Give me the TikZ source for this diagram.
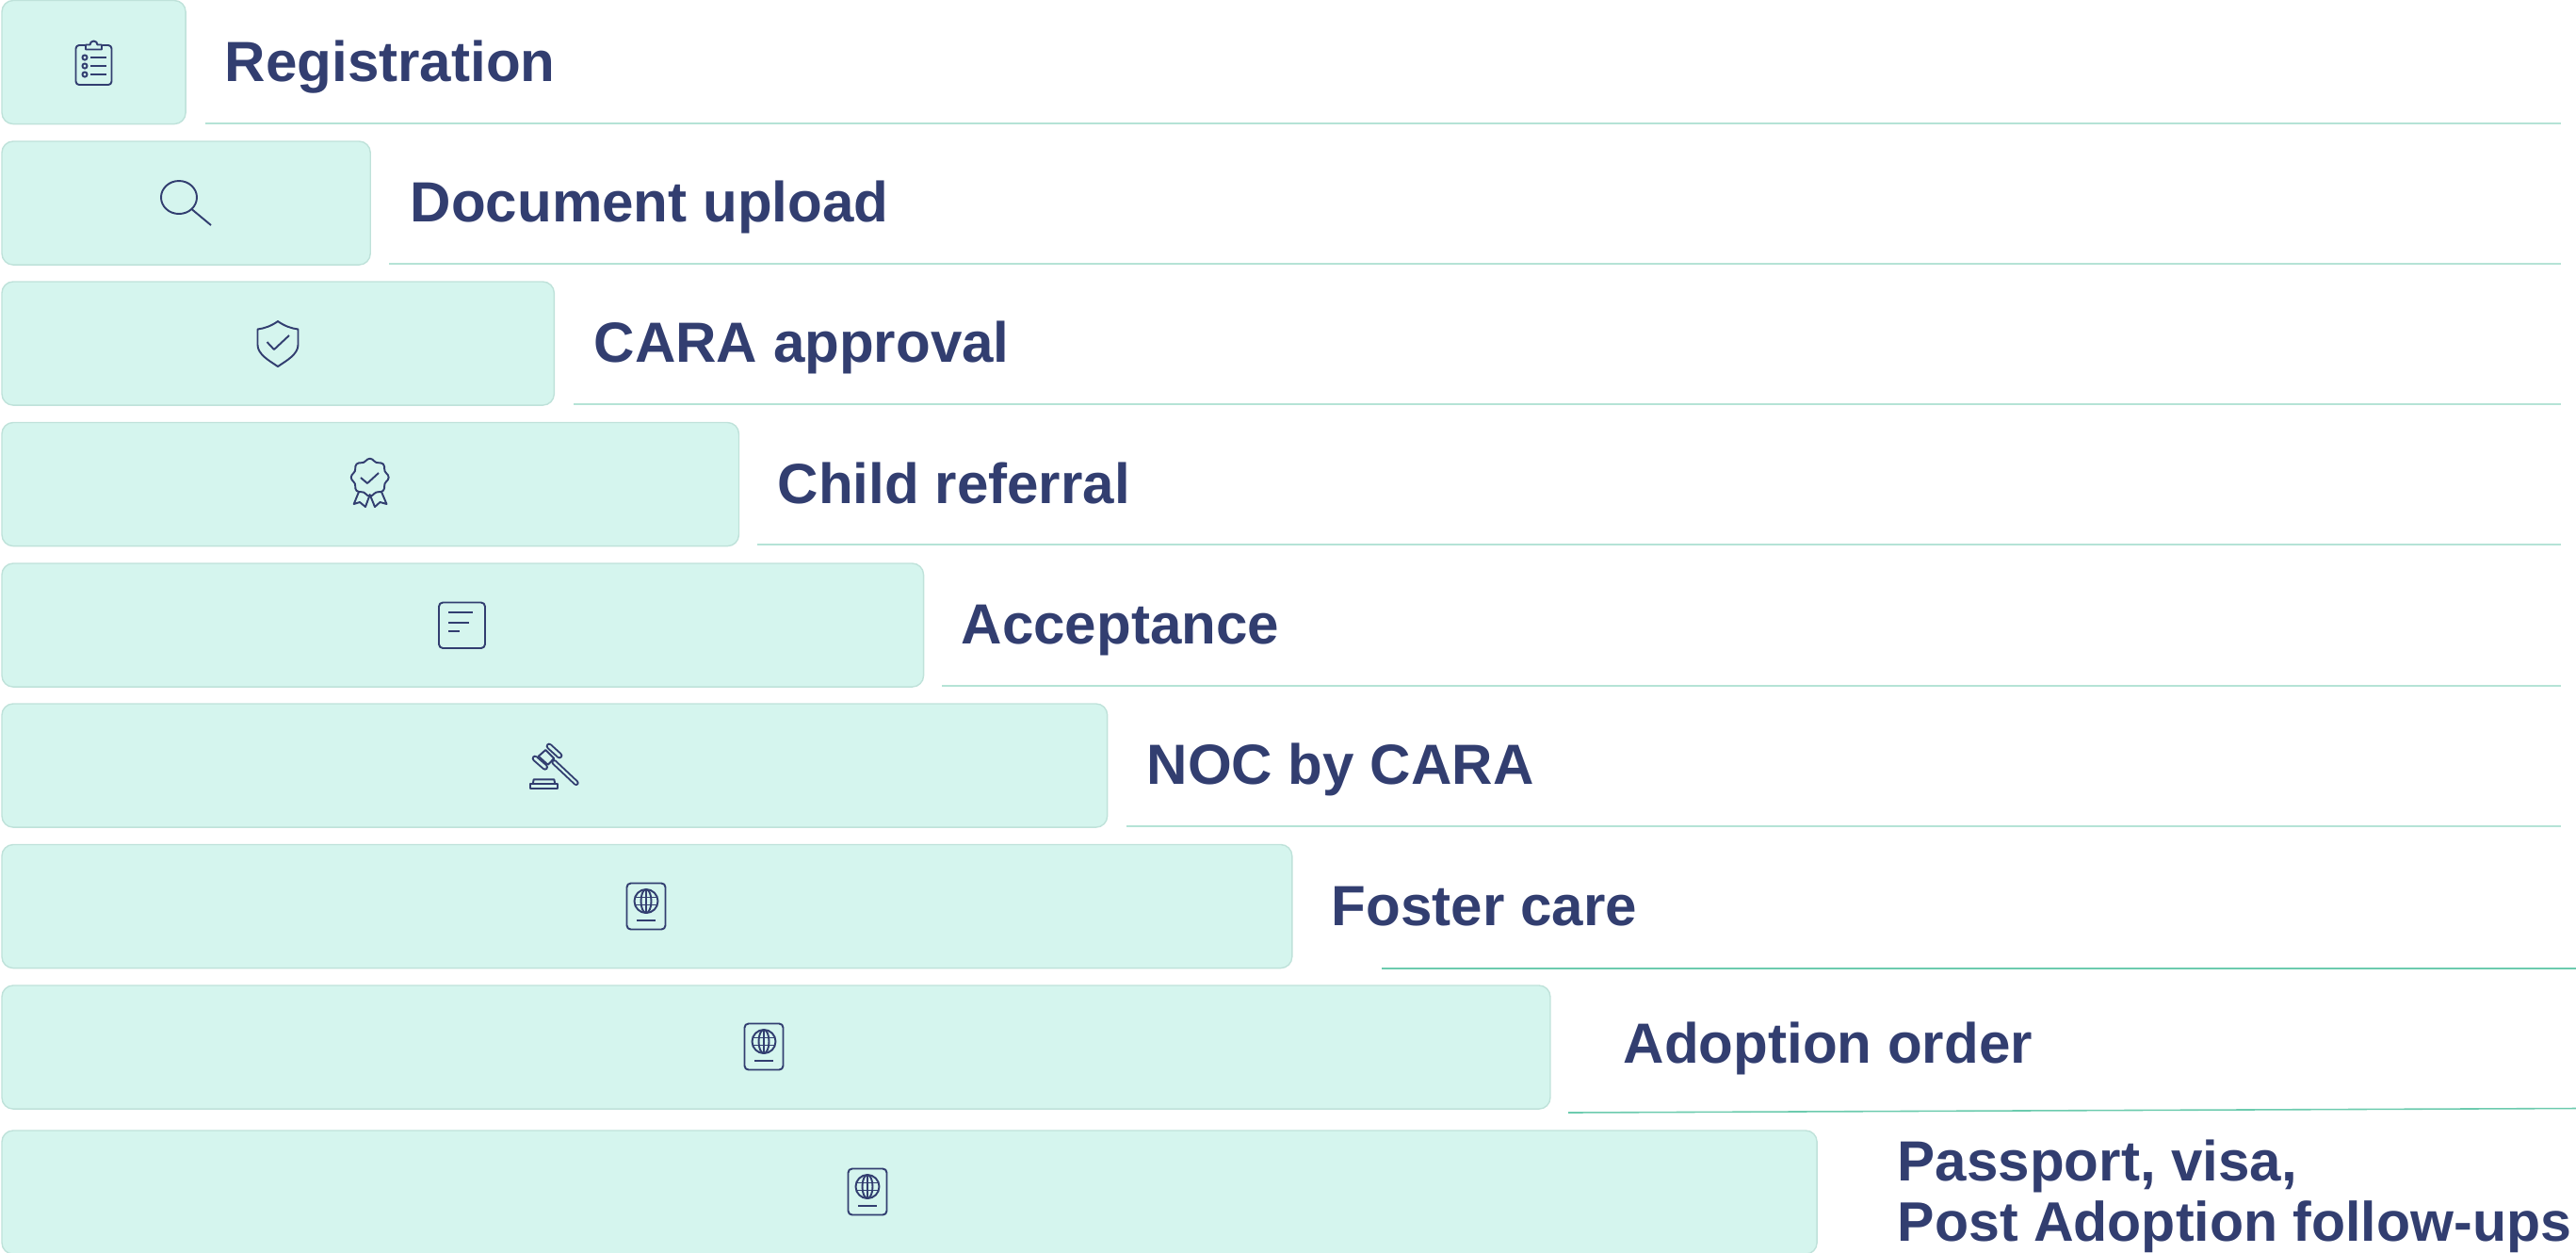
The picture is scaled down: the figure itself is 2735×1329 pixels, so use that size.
\documentclass[tikz,border=0pt]{standalone}
\usepackage{fontspec}
\setmainfont{Liberation Sans}
\definecolor{blocfill}{HTML}{D5F5EE}
\definecolor{blocline}{HTML}{BFE2DA}
\definecolor{inkblue}{HTML}{323E70}
\definecolor{rulelight}{HTML}{B5E3D6}
\definecolor{ruledark}{HTML}{6CCBAE}
\tikzset{
    passporticon/.pic={
        \draw[icon, rounded corners=1.2] (-20.5,-24.5) rectangle (20.5,24.5);
        \draw[icon] (0,-5.5) circle (12.5);
        \draw[icon] (0,-5.5) ellipse (5.5 and 12.5);
        \draw[icon] (0,-18) -- (0,7);
        \draw[icon] (-11.5,-9.5) -- (11.5,-9.5);
        \draw[icon] (-11.5,-1.5) -- (11.5,-1.5);
        \draw[icon] (-9.8,14.7) -- (9.8,14.7);
    }
}
\begin{document}
\begin{tikzpicture}[x=0.01cm, y=-0.01cm,
    bloc/.style={draw=blocline, fill=blocfill, line width=0.4pt,
        rounded corners=3.4pt, anchor=north west, inner sep=0pt,
        minimum height=1.31cm, outer sep=0pt},
    rotul/.style={text=inkblue, anchor=base west, inner sep=0pt,
        font=\fontsize{17.1}{18.2}\selectfont\bfseries},
    regua/.style={draw=rulelight, line width=0.45pt},
    icon/.style={draw=inkblue, line width=0.55pt, line join=round}
    ]
    \useasboundingbox (0,0) rectangle (2735,1329);

    \node[bloc, minimum width=1.95cm] (registration) at (2,0.5) {};
    \node[bloc, minimum width=3.91cm] (upload) at (2,150) {};
    \node[bloc, minimum width=5.86cm] (approval) at (2,299) {};
    \node[bloc, minimum width=7.82cm] (referral) at (2,448.5) {};
    \node[bloc, minimum width=9.78cm] (acceptance) at (2,598) {};
    \node[bloc, minimum width=11.73cm] (noc) at (2,747) {};
    \node[bloc, minimum width=13.69cm] (foster) at (2,896.5) {};
    \node[bloc, minimum width=16.43cm] (order) at (2,1046) {};
    \node[bloc, minimum width=19.26cm] (passport) at (2,1200) {};

    \node[rotul] (registrationtext) at (238,86) {Registration};
    \node[rotul] (uploadtext) at (435,235) {Document upload};
    \node[rotul] (approvaltext) at (630,384) {CARA approval};
    \node[rotul] (referraltext) at (825,534) {Child referral};
    \node[rotul] (acceptancetext) at (1020,683) {Acceptance};
    \node[rotul] (noctext) at (1217,832) {NOC by CARA};
    \node[rotul] (fostertext) at (1413,982) {Foster care};
    \node[rotul] (ordertext) at (1723,1128) {Adoption order};
    \node[rotul] (passporttext) at (2014,1253) {Passport, visa,};
    \node[rotul, font=\fontsize{16.8}{18.2}\selectfont\bfseries] (followtext) at (2014,1317) {Post Adoption follow-ups};

    \draw[regua] (218,131) -- (2719,131);
    \draw[regua] (413,280) -- (2719,280);
    \draw[regua] (609,429) -- (2719,429);
    \draw[regua] (804,578) -- (2719,578);
    \draw[regua] (1000,728) -- (2719,728);
    \draw[regua] (1196,877) -- (2719,877);
    \draw[regua, draw=ruledark] (1467,1028) -- (2735,1028);
    \draw[regua, draw=ruledark] (1665,1181) -- (2735,1176.5);

    % clipboard
    \draw[icon, rounded corners=1] (90,48) -- (80.5,48) -- (80.5,90) -- (118.5,90) -- (118.5,48) -- (109,48);
    \draw[icon] (91,52.5) -- (91,47.5) -- (95.5,47.5) arc (180:360:4) -- (108,47.5) -- (108,52.5) -- cycle;
    \foreach \ypos in {61,70,79} {
        \draw[icon] (90,\ypos) circle (2.6);
        \draw[icon] (96,\ypos) -- (112.5,\ypos);
    }

    % magnifier
    \draw[icon] (190,209.5) ellipse (19 and 17.5);
    \draw[icon] (203.5,222) -- (224,239);

    % shield
    \draw[icon] (295,341) .. controls (288,346) and (281,348.5) .. (273.5,349.5) -- (273.5,366)
        .. controls (273.5,376) and (286,383) .. (295,389)
        .. controls (304,383) and (316.5,376) .. (316.5,366) -- (316.5,349.5)
        .. controls (309,348.5) and (302,346) .. (295,341) -- cycle;
    \draw[icon] (283.5,363) -- (291,371) -- (307,356);

    % badge
    \draw[icon, smooth cycle] plot[domain=0:352.5, samples=48] ({392.7+(18.6+1.4*cos(8*\x))*cos(\x)},{506.7+(18.6+1.4*cos(8*\x))*sin(\x)});
    \draw[icon] (381,522) -- (375.7,535) -- (382,533) -- (388,538) -- (392.7,525) -- (398,538) -- (403.5,533) -- (410.5,535) -- (405,522);
    \draw[icon] (383,507) -- (390,513) -- (402,502);

    % note
    \draw[icon, rounded corners=1.2] (466,639.5) rectangle (515,688);
    \draw[icon] (476,650.3) -- (502,650.3);
    \draw[icon] (476,660.7) -- (498,660.7);
    \draw[icon] (476,670) -- (488,670);

    % gavel
    \draw[icon, double=blocfill, double distance=0.6pt, line cap=round] (588.3,809) -- (611.7,831);
    \draw[icon, fill=blocfill] (579.3,796) -- (571.7,802.7) -- (581.7,811.7) -- (588.3,805) -- cycle;
    \draw[icon, double=blocfill, double distance=0.8pt, line cap=round] (583,792) -- (594,802);
    \draw[icon, double=blocfill, double distance=0.8pt, line cap=round] (568,805) -- (578.7,814.3);
    \draw[icon] (565.7,832) -- (566.7,827.3) -- (588.3,827.3) -- (589.3,832);
    \draw[icon] (562.7,832) rectangle (592,837);

    % passports
    \pic at (686,962) {passporticon};
    \pic at (811,1111) {passporticon};
    \pic at (921,1265) {passporticon};
\end{tikzpicture}
\end{document}
